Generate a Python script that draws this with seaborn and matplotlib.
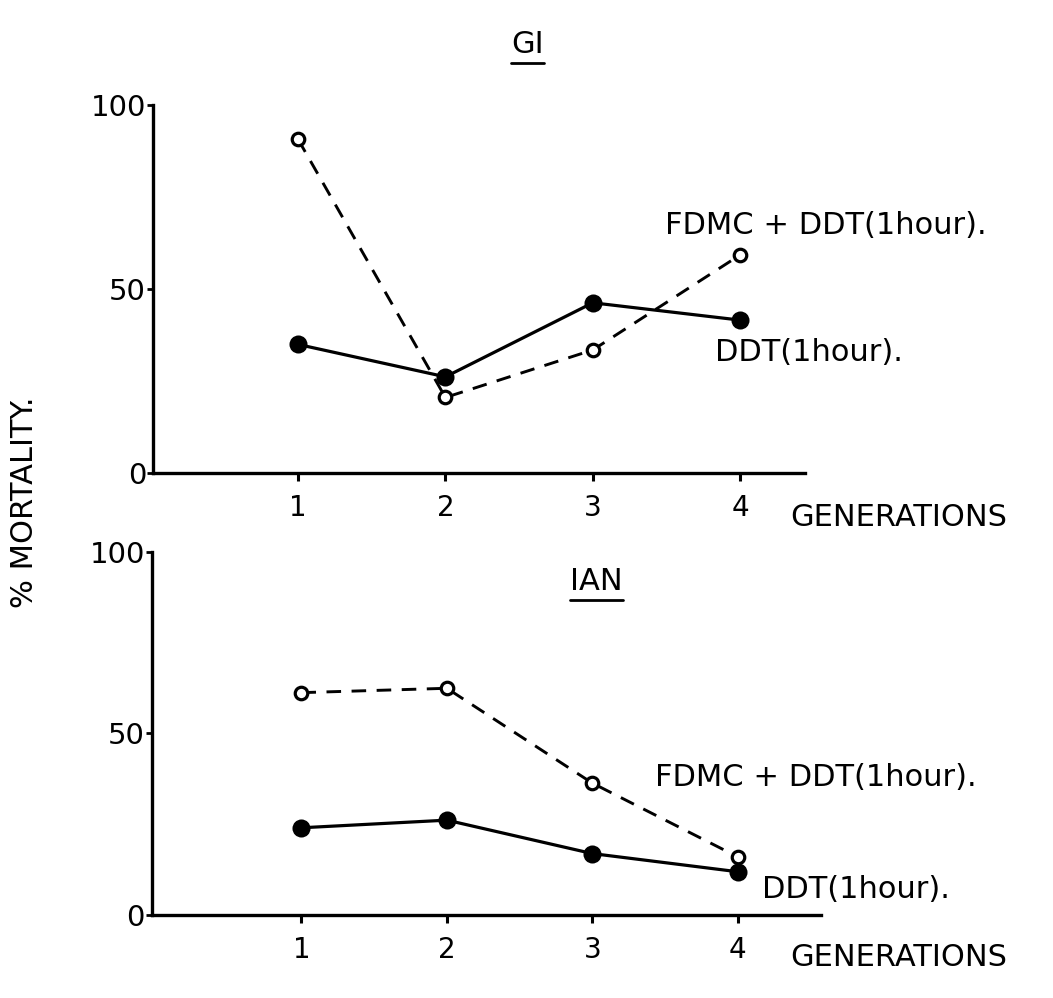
import numpy as np
import pandas as pd
import matplotlib
matplotlib.use("Agg")
import matplotlib.pyplot as plt
import seaborn as sns
from matplotlib.lines import Line2D

# ---- data ----
generations = [1, 2, 3, 4]
gi_fdmc = [90.7, 20.6, 33.5, 59.3]
gi_ddt = [35.0, 26.2, 46.3, 41.6]
ian_fdmc = [61.2, 62.4, 36.3, 16.0]
ian_ddt = [24.0, 26.1, 16.9, 11.9]
series_labels = ["FDMC + DDT(1hour).", "DDT(1hour).", ]
panel_titles = ["GI", "IAN"]
y_ticks = [0, 50, 100]
x_label = "GENERATIONS"
y_label = "% MORTALITY."

sns.set_style("ticks")
plt.rcParams["font.family"] = ["DejaVu Sans"]
plt.rcParams["text.color"] = "black"
plt.rcParams["axes.edgecolor"] = "black"
plt.rcParams["xtick.color"] = "black"
plt.rcParams["ytick.color"] = "black"
plt.rcParams["xtick.labelcolor"] = "black"
plt.rcParams["ytick.labelcolor"] = "black"

fig = plt.figure(figsize=(10.53, 9.98), dpi=100)
ax1 = fig.add_axes([0.1453, 0.5257, 0.7645 - 0.1453, 0.8948 - 0.5257])
ax2 = fig.add_axes([0.1440, 0.0832, 0.7800 - 0.1440, 0.4472 - 0.0832])

panels = [
    (ax1, gi_fdmc, gi_ddt, (0.016, 4.44)),
    (ax2, ian_fdmc, ian_ddt, (-0.03, 4.575)),
]

for ax, fdmc, ddt, xl in panels:
    df = pd.DataFrame({"generation": generations, "fdmc": fdmc, "ddt": ddt})
    sns.lineplot(data=df, x="generation", y="fdmc", ax=ax, color="black",
                 linestyle=(0, (5, 3.6)), linewidth=2.1, marker="o",
                 markersize=9, markerfacecolor="white", markeredgecolor="black",
                 markeredgewidth=2.3, errorbar=None)
    sns.lineplot(data=df, x="generation", y="ddt", ax=ax, color="black",
                 linestyle="-", linewidth=2.3, marker="o",
                 markersize=13, markerfacecolor="black", markeredgecolor="black",
                 markeredgewidth=0, errorbar=None)
    ax.set_xlim(*xl)
    ax.set_ylim(0, 100)
    ax.set_xticks(generations)
    ax.set_xticklabels([str(g) for g in generations])
    ax.set_yticks(y_ticks)
    ax.set_yticklabels([str(t) for t in y_ticks])
    ax.set_xlabel("")
    ax.set_ylabel("")
    for s in ["top", "right"]:
        ax.spines[s].set_visible(False)
    for s in ["left", "bottom"]:
        ax.spines[s].set_linewidth(2.4)
        ax.spines[s].set_color("black")
    ax.tick_params(axis="x", direction="out", length=6, width=2.2, pad=9,
                   labelsize=20, colors="black")
    ax.tick_params(axis="y", direction="out", length=4, width=2.0, pad=1,
                   labelsize=21, colors="black")
    ax.patch.set_alpha(0)

fs = 22
# series labels
ax1.text(3.49, 67.4, series_labels[0], fontsize=fs, va="center", ha="left", clip_on=False)
ax1.text(3.83, 32.7, series_labels[1], fontsize=fs, va="center", ha="left", clip_on=False)
ax2.text(3.43, 37.8, series_labels[0], fontsize=fs, va="center", ha="left", clip_on=False)
ax2.text(4.17, 7.0, series_labels[1], fontsize=fs, va="center", ha="left", clip_on=False)

# x axis labels
ax1.text(4.34, -12.1, x_label, fontsize=fs, va="center", ha="left", clip_on=False)
ax2.text(4.36, -11.6, x_label, fontsize=fs, va="center", ha="left", clip_on=False)

# y label
fig.text(0.023, 0.497, y_label, rotation=90, fontsize=fs, va="center", ha="center")

# titles
t1 = fig.text(0.501, 0.955, panel_titles[0], fontsize=fs, va="center", ha="center")
t2 = ax2.text(3.03, 91.7, panel_titles[1], fontsize=fs, va="center", ha="center")

fig.canvas.draw()
r = fig.canvas.get_renderer()
inv = fig.transFigure.inverted()
for t in (t1, t2):
    bb = t.get_window_extent(renderer=r)
    (x0, y0), (x1, y1) = inv.transform([[bb.x0, bb.y0 - 4], [bb.x1, bb.y0 - 4]])
    fig.add_artist(Line2D([x0, x1], [y0, y1], transform=fig.transFigure,
                          color="black", linewidth=2.0))

fig.savefig("out.png", dpi=100, facecolor="white")
